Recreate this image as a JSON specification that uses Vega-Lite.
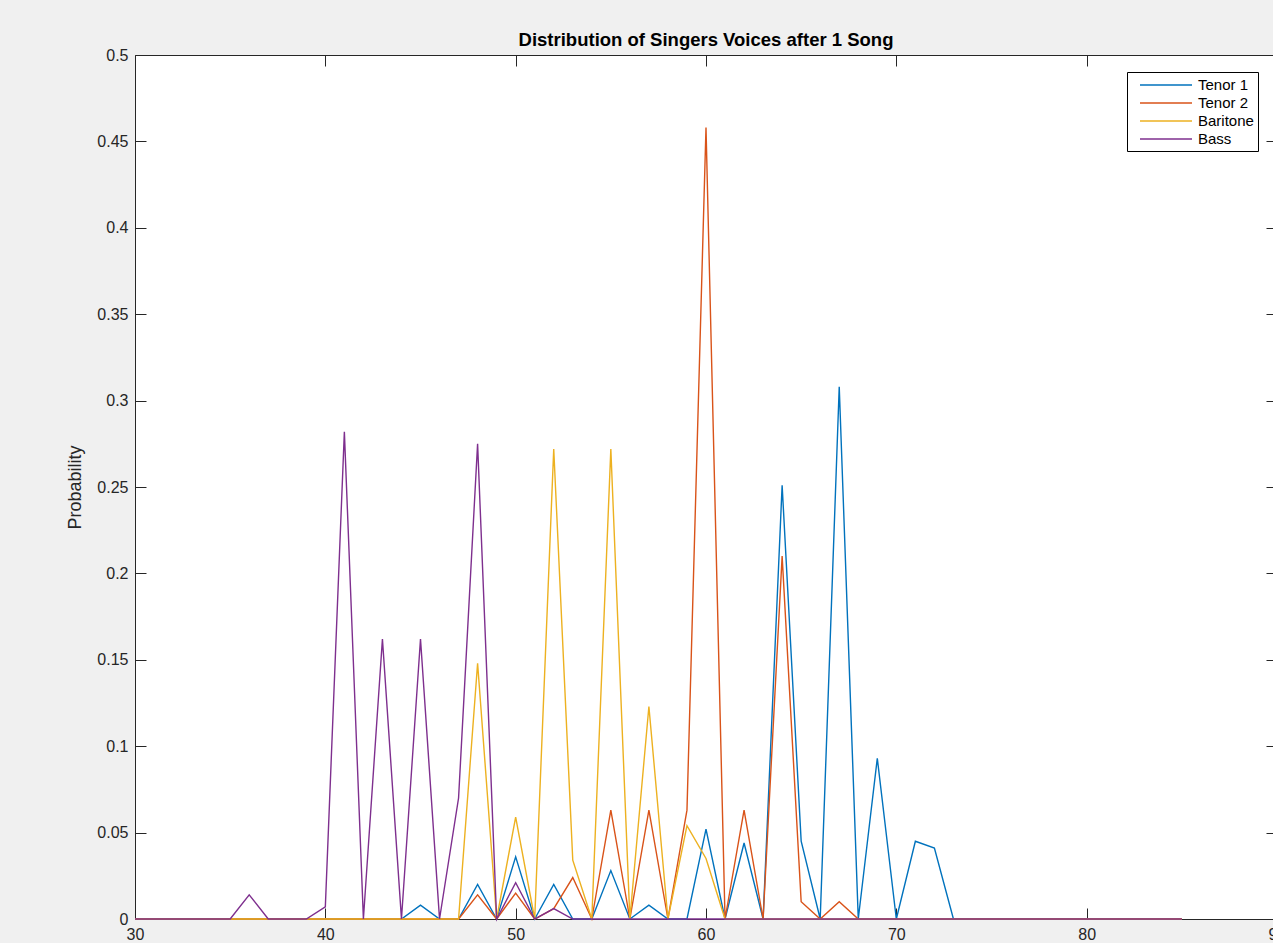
{
  "$schema": "https://vega.github.io/schema/vega-lite/v6.json",
  "width": 1142,
  "height": 864,
  "autosize": {"type": "none"},
  "padding": {"left": 135, "top": 55, "right": 0, "bottom": 24},
  "background": "#f0f0f0",
  "title": {"text": "Distribution of Singers Voices after 1 Song", "font": "Liberation Sans", "fontSize": 18.5, "fontWeight": "bold", "color": "#000000", "offset": -2, "anchor": "middle"},
  "config": {
    "view": {"fill": "white", "stroke": null},
    "font": "Liberation Sans",
    "axis": {"grid": false, "labelFlush": false, "domainColor": "#262626", "tickColor": "#262626", "labelColor": "#262626", "labelFont": "Liberation Sans", "labelFontSize": 16, "tickSize": -11, "labelPadding": 18, "titleFont": "Liberation Sans", "titleFontWeight": "normal", "titleFontSize": 18, "titleColor": "#262626"},
    "legend": {"labelFont": "Liberation Sans", "labelFontSize": 15, "labelColor": "#000000"}
  },
  "data": {"values": [
    {"x":30,"Tenor 1":0,"Tenor 2":0,"Baritone":0,"Bass":0},
    {"x":31,"Tenor 1":0,"Tenor 2":0,"Baritone":0,"Bass":0},
    {"x":32,"Tenor 1":0,"Tenor 2":0,"Baritone":0,"Bass":0},
    {"x":33,"Tenor 1":0,"Tenor 2":0,"Baritone":0,"Bass":0},
    {"x":34,"Tenor 1":0,"Tenor 2":0,"Baritone":0,"Bass":0},
    {"x":35,"Tenor 1":0,"Tenor 2":0,"Baritone":0,"Bass":0},
    {"x":36,"Tenor 1":0,"Tenor 2":0,"Baritone":0,"Bass":0.014},
    {"x":37,"Tenor 1":0,"Tenor 2":0,"Baritone":0,"Bass":0},
    {"x":38,"Tenor 1":0,"Tenor 2":0,"Baritone":0,"Bass":0},
    {"x":39,"Tenor 1":0,"Tenor 2":0,"Baritone":0,"Bass":0},
    {"x":40,"Tenor 1":0,"Tenor 2":0,"Baritone":0,"Bass":0.007},
    {"x":41,"Tenor 1":0,"Tenor 2":0,"Baritone":0,"Bass":0.282},
    {"x":42,"Tenor 1":0,"Tenor 2":0,"Baritone":0,"Bass":0},
    {"x":43,"Tenor 1":0,"Tenor 2":0,"Baritone":0,"Bass":0.162},
    {"x":44,"Tenor 1":0,"Tenor 2":0,"Baritone":0,"Bass":0},
    {"x":45,"Tenor 1":0.008,"Tenor 2":0,"Baritone":0,"Bass":0.162},
    {"x":46,"Tenor 1":0,"Tenor 2":0,"Baritone":0,"Bass":0},
    {"x":47,"Tenor 1":0,"Tenor 2":0,"Baritone":0,"Bass":0.07},
    {"x":48,"Tenor 1":0.02,"Tenor 2":0.014,"Baritone":0.148,"Bass":0.275},
    {"x":49,"Tenor 1":0,"Tenor 2":0,"Baritone":0,"Bass":0},
    {"x":50,"Tenor 1":0.036,"Tenor 2":0.015,"Baritone":0.059,"Bass":0.021},
    {"x":51,"Tenor 1":0,"Tenor 2":0,"Baritone":0,"Bass":0},
    {"x":52,"Tenor 1":0.02,"Tenor 2":0.006,"Baritone":0.272,"Bass":0.006},
    {"x":53,"Tenor 1":0,"Tenor 2":0.024,"Baritone":0.034,"Bass":0},
    {"x":54,"Tenor 1":0,"Tenor 2":0,"Baritone":0,"Bass":0},
    {"x":55,"Tenor 1":0.028,"Tenor 2":0.063,"Baritone":0.272,"Bass":0},
    {"x":56,"Tenor 1":0,"Tenor 2":0,"Baritone":0,"Bass":0},
    {"x":57,"Tenor 1":0.008,"Tenor 2":0.063,"Baritone":0.123,"Bass":0},
    {"x":58,"Tenor 1":0,"Tenor 2":0,"Baritone":0,"Bass":0},
    {"x":59,"Tenor 1":0,"Tenor 2":0.063,"Baritone":0.054,"Bass":0},
    {"x":60,"Tenor 1":0.052,"Tenor 2":0.458,"Baritone":0.035,"Bass":0},
    {"x":61,"Tenor 1":0,"Tenor 2":0,"Baritone":0,"Bass":0},
    {"x":62,"Tenor 1":0.044,"Tenor 2":0.063,"Baritone":0,"Bass":0},
    {"x":63,"Tenor 1":0,"Tenor 2":0,"Baritone":0,"Bass":0},
    {"x":64,"Tenor 1":0.251,"Tenor 2":0.21,"Baritone":0,"Bass":0},
    {"x":65,"Tenor 1":0.045,"Tenor 2":0.01,"Baritone":0,"Bass":0},
    {"x":66,"Tenor 1":0,"Tenor 2":0,"Baritone":0,"Bass":0},
    {"x":67,"Tenor 1":0.308,"Tenor 2":0.01,"Baritone":0,"Bass":0},
    {"x":68,"Tenor 1":0,"Tenor 2":0,"Baritone":0,"Bass":0},
    {"x":69,"Tenor 1":0.093,"Tenor 2":0,"Baritone":0,"Bass":0},
    {"x":70,"Tenor 1":0,"Tenor 2":0,"Baritone":0,"Bass":0},
    {"x":71,"Tenor 1":0.045,"Tenor 2":0,"Baritone":0,"Bass":0},
    {"x":72,"Tenor 1":0.041,"Tenor 2":0,"Baritone":0,"Bass":0},
    {"x":73,"Tenor 1":0,"Tenor 2":0,"Baritone":0,"Bass":0},
    {"x":74,"Tenor 1":0,"Tenor 2":0,"Baritone":0,"Bass":0},
    {"x":75,"Tenor 1":0,"Tenor 2":0,"Baritone":0,"Bass":0},
    {"x":76,"Tenor 1":0,"Tenor 2":0,"Baritone":0,"Bass":0},
    {"x":77,"Tenor 1":0,"Tenor 2":0,"Baritone":0,"Bass":0},
    {"x":78,"Tenor 1":0,"Tenor 2":0,"Baritone":0,"Bass":0},
    {"x":79,"Tenor 1":0,"Tenor 2":0,"Baritone":0,"Bass":0},
    {"x":80,"Tenor 1":0,"Tenor 2":0,"Baritone":0,"Bass":0},
    {"x":81,"Tenor 1":0,"Tenor 2":0,"Baritone":0,"Bass":0},
    {"x":82,"Tenor 1":0,"Tenor 2":0,"Baritone":0,"Bass":0},
    {"x":83,"Tenor 1":0,"Tenor 2":0,"Baritone":0,"Bass":0},
    {"x":84,"Tenor 1":0,"Tenor 2":0,"Baritone":0,"Bass":0},
    {"x":85,"Tenor 1":0,"Tenor 2":0,"Baritone":0,"Bass":0}
  ]},
  "transform": [{"fold": ["Tenor 1", "Tenor 2", "Baritone", "Bass"], "as": ["voice", "p"]}],
  "layer": [
    {
      "mark": {"type": "line", "strokeWidth": 1.4},
      "encoding": {
        "x": {"field": "x", "type": "quantitative", "scale": {"domain": [30, 90], "nice": false, "zero": false}, "axis": {"orient": "bottom", "title": null, "values": [30, 40, 50, 60, 70, 80, 90]}},
        "y": {"field": "p", "type": "quantitative", "scale": {"domain": [0, 0.5], "nice": false}, "axis": {"orient": "left", "title": "Probability", "titlePadding": 12, "format": ".2~f", "values": [0, 0.05, 0.1, 0.15, 0.2, 0.25, 0.3, 0.35, 0.4, 0.45, 0.5]}},
        "color": {"field": "voice", "type": "nominal", "scale": {"domain": ["Tenor 1", "Tenor 2", "Baritone", "Bass"], "range": ["#0072BD", "#D95319", "#EDB120", "#7E2F8E"]},
          "legend": {"title": null, "orient": "none", "legendX": 992, "legendY": 17, "symbolType": "M0,0H6.5", "symbolSize": 256, "symbolStrokeWidth": 1.5, "labelOffset": 49, "padding": 4, "rowPadding": 1, "strokeColor": "#000000", "fillColor": "#ffffff"}}
      }
    },
    {
      "mark": {"type": "point", "opacity": 0},
      "encoding": {
        "x": {"field": "x", "type": "quantitative", "axis": {"orient": "top", "title": null, "labels": false, "values": [30, 40, 50, 60, 70, 80, 90]}},
        "y": {"field": "p", "type": "quantitative", "axis": {"orient": "right", "title": null, "labels": false, "values": [0, 0.05, 0.1, 0.15, 0.2, 0.25, 0.3, 0.35, 0.4, 0.45, 0.5]}}
      }
    }
  ]
}
